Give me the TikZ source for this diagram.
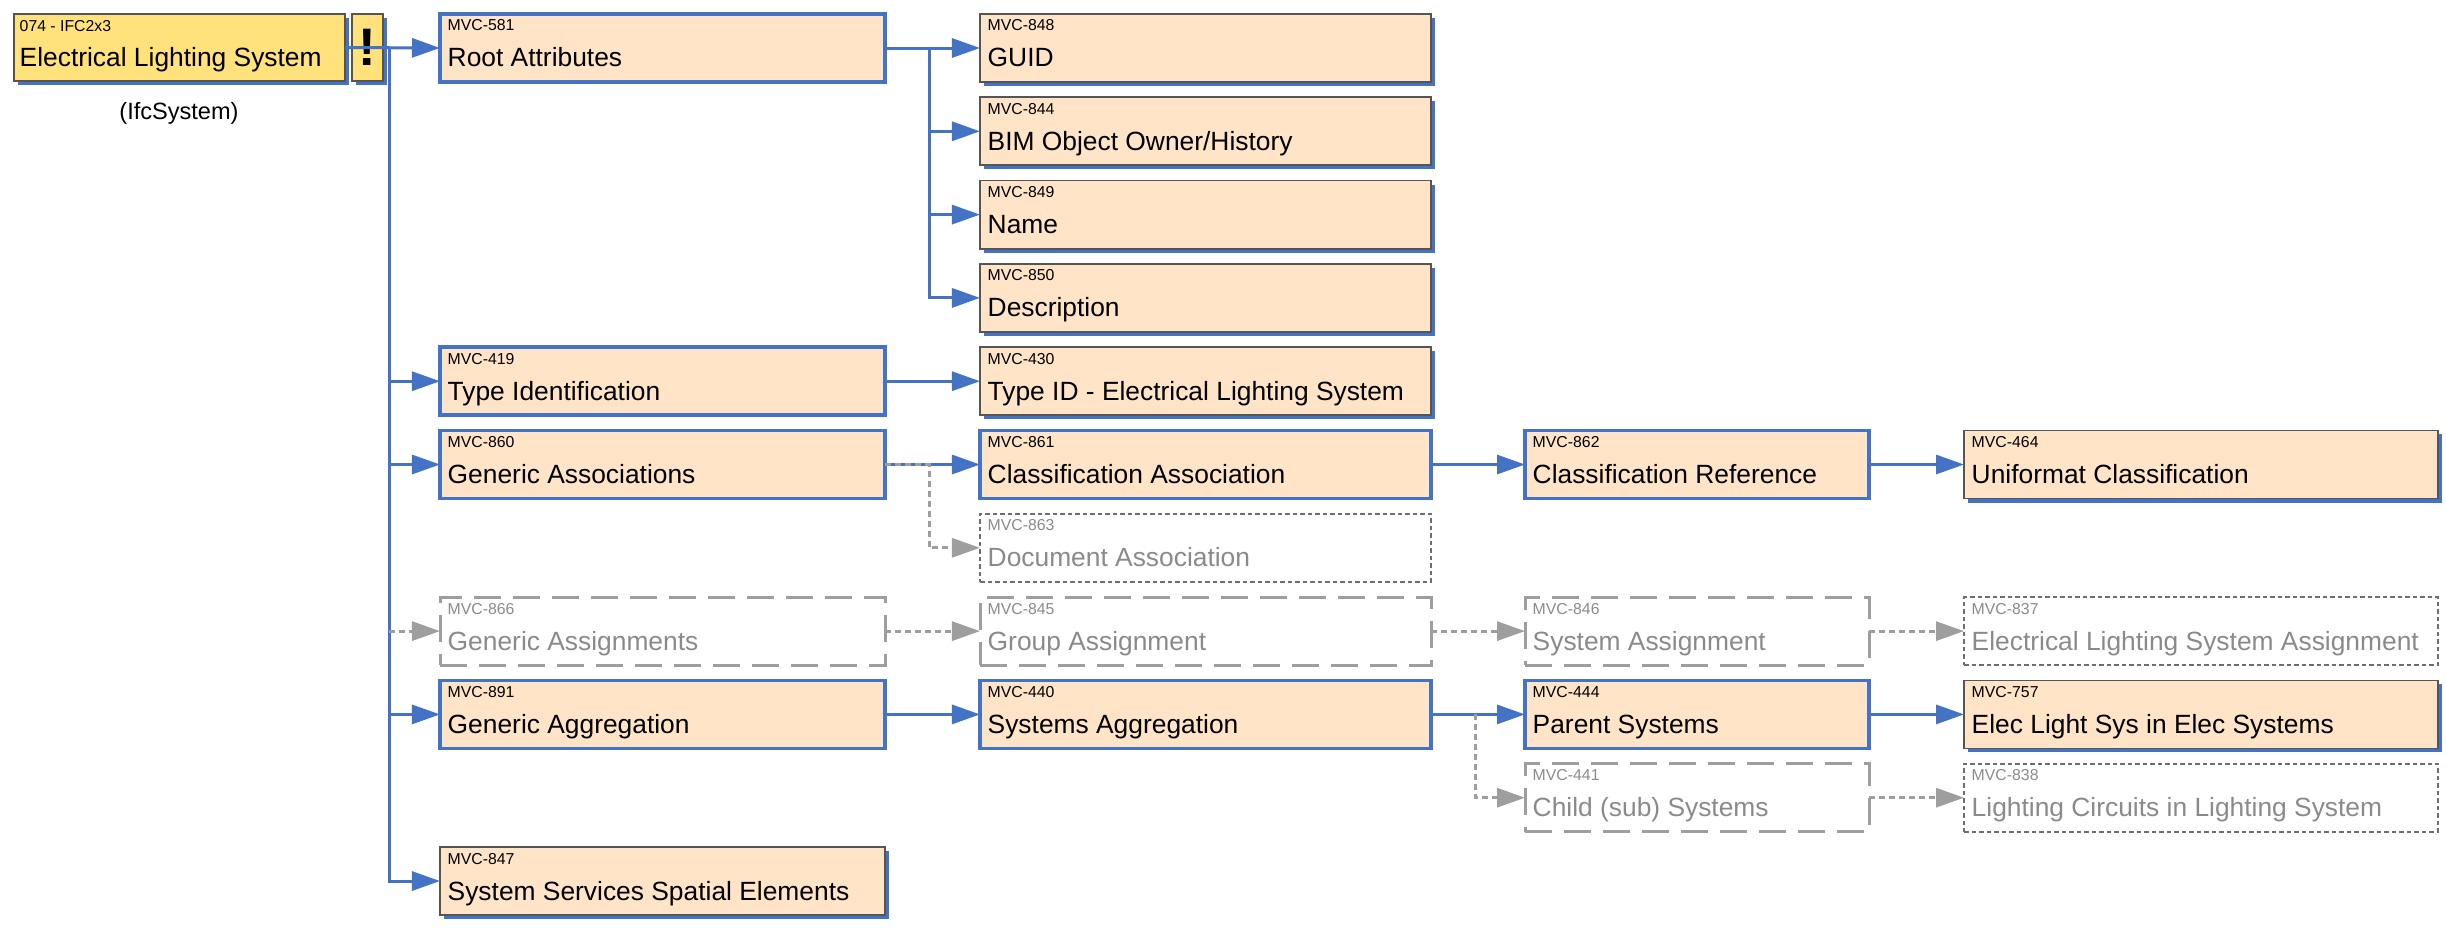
\documentclass[tikz,border=0pt]{standalone}
\usepackage{fontspec}
\setmainfont{Liberation Sans}
\usetikzlibrary{arrows.meta,shadows}

\definecolor{peach}{RGB}{255,228,200}
\definecolor{rootyellow}{RGB}{255,226,123}
\definecolor{mvcblue}{RGB}{68,114,196}
\definecolor{edgegray}{RGB}{85,85,85}
\definecolor{ghostgray}{RGB}{158,158,158}
\definecolor{dotgray}{RGB}{110,110,110}
\definecolor{ghosttext}{RGB}{138,138,138}

\begin{document}
\begin{tikzpicture}[x=0.01cm,y=-0.01cm,line join=miter,
  box/.style={rectangle,anchor=north west,inner sep=0pt,outer sep=0pt,minimum height=0.68cm},
  shadowbox/.style={box,draw=edgegray,line width=0.5pt,
    drop shadow={shadow xshift=0.04cm,shadow yshift=-0.04cm,fill=mvcblue,opacity=1}},
  leafbox/.style={shadowbox,fill=peach},
  parentbox/.style={box,draw=mvcblue,line width=1.05pt,fill=peach},
  ghostbox/.style={box,draw=ghostgray,line width=0.85pt,dash pattern=on 0.27cm off 0.12cm},
  ghostleaf/.style={box,draw=dotgray,line width=0.5pt,dash pattern=on 0.045cm off 0.03cm},
  idtext/.style={anchor=base west,inner sep=0pt,font=\fontsize{4.5}{5}\selectfont},
  nametext/.style={anchor=base west,inner sep=0pt,font=\fontsize{7.5}{9}\selectfont},
  link/.style={draw=mvcblue,line width=0.85pt,-{Triangle[length=2.8mm,width=1.9mm]}},
  glink/.style={draw=ghostgray,line width=0.85pt,dash pattern=on 0.06cm off 0.04cm,
    -{Triangle[length=2.8mm,width=1.9mm]}}]
  \useasboundingbox (0,0) rectangle (2446,934);

  % 根节点
  \node[shadowbox,fill=rootyellow,minimum width=3.31cm,minimum height=0.67cm] (root) at (14,14) {};
  \node[idtext] (root-id) at ([shift={(5,18)}]root.north west) {074 - IFC2x3};
  \node[nametext] (root-txt) at ([shift={(5,53)}]root.north west) {Electrical Lighting System};
  \node[shadowbox,fill=rootyellow,minimum width=0.31cm,minimum height=0.67cm,
    font=\fontsize{15}{15}\bfseries] (warn) at (352,14) {!};
  \node[font=\fontsize{6.7}{8}\selectfont] (ifc) at (179,113) {(IfcSystem)};

  % 有子项的方框
  \foreach \nm/\x/\r/\w/\id/\txt in {
    ra/440/0/445/MVC-581/Root Attributes,
    ti/440/4/445/MVC-419/Type Identification,
    gas/440/5/445/MVC-860/Generic Associations,
    gagg/440/8/445/MVC-891/Generic Aggregation,
    ca/980/5/451/MVC-861/Classification Association,
    sa/980/8/451/MVC-440/Systems Aggregation,
    cr/1525/5/344/MVC-862/Classification Reference,
    ps/1525/8/344/MVC-444/Parent Systems
  } {
    \node[parentbox,minimum width=\w*0.01cm] (\nm) at (\x,{14+83.3*\r}) {};
    \node[idtext] (\nm-id) at ([shift={(7,17)}]\nm.north west) {\id};
    \node[nametext] (\nm-txt) at ([shift={(7,53)}]\nm.north west) {\txt};
  }

  % 叶子方框
  \foreach \nm/\x/\r/\w/\id/\txt in {
    guid/980/0/451/MVC-848/GUID,
    bim/980/1/451/MVC-844/{BIM Object Owner/History},
    name/980/2/451/MVC-849/Name,
    desc/980/3/451/MVC-850/Description,
    tid/980/4/451/MVC-430/Type ID - Electrical Lighting System,
    uf/1964/5/474/MVC-464/Uniformat Classification,
    elsys/1964/8/474/MVC-757/Elec Light Sys in Elec Systems,
    sse/440/10/445/MVC-847/System Services Spatial Elements
  } {
    \node[leafbox,minimum width=\w*0.01cm] (\nm) at (\x,{14+83.3*\r}) {};
    \node[idtext] (\nm-id) at ([shift={(7,17)}]\nm.north west) {\id};
    \node[nametext] (\nm-txt) at ([shift={(7,53)}]\nm.north west) {\txt};
  }

  % 未启用（长虚线）
  \foreach \nm/\x/\r/\w/\id/\txt in {
    gasg/440/7/445/MVC-866/Generic Assignments,
    grpa/980/7/451/MVC-845/Group Assignment,
    sysa/1525/7/344/MVC-846/System Assignment,
    csub/1525/9/344/MVC-441/Child (sub) Systems
  } {
    \node[ghostbox,minimum width=\w*0.01cm] (\nm) at (\x,{14+83.3*\r}) {};
    \node[idtext,text=ghosttext] (\nm-id) at ([shift={(7,17)}]\nm.north west) {\id};
    \node[nametext,text=ghosttext] (\nm-txt) at ([shift={(7,53)}]\nm.north west) {\txt};
  }

  % 未启用（点线）
  \foreach \nm/\x/\r/\w/\id/\txt in {
    doca/980/6/451/MVC-863/Document Association,
    elsa/1964/7/474/MVC-837/Electrical Lighting System Assignment,
    lcirc/1964/9/474/MVC-838/Lighting Circuits in Lighting System
  } {
    \node[ghostleaf,minimum width=\w*0.01cm] (\nm) at (\x,{14+83.3*\r}) {};
    \node[idtext,text=ghosttext] (\nm-id) at ([shift={(7,17)}]\nm.north west) {\id};
    \node[nametext,text=ghosttext] (\nm-txt) at ([shift={(7,53)}]\nm.north west) {\txt};
  }

  % 连线
  \coordinate (trunk) at ([shift={(44,0)}]root.east);
  \draw[link] (root.east) -- (ra.west);
  \foreach \t in {ti,gas,gagg,sse} {
    \draw[link] (trunk) |- (\t.west);
  }
  \draw[glink] (trunk |- gasg.west) -- (gasg.west);

  \coordinate (rafan) at ([shift={(44,0)}]ra.east);
  \draw[link] (ra.east) -- (guid.west);
  \foreach \t in {bim,name,desc} {
    \draw[link] (rafan) |- (\t.west);
  }
  \draw[link] (ti.east) -- (tid.west);

  \draw[link] (gas.east) -- (ca.west);
  \draw[link] (ca.east) -- (cr.west);
  \draw[link] (cr.east) -- (uf.west);
  \coordinate (gasfan) at ([shift={(44,0)}]gas.east);
  \draw[glink] (gas.east) -- (gasfan) |- (doca.west);

  \draw[glink] (gasg.east) -- (grpa.west);
  \draw[glink] (grpa.east) -- (sysa.west);
  \draw[glink] (sysa.east) -- (elsa.west);

  \draw[link] (gagg.east) -- (sa.west);
  \draw[link] (sa.east) -- (ps.west);
  \draw[link] (ps.east) -- (elsys.west);
  \coordinate (safan) at ([shift={(44,0)}]sa.east);
  \draw[glink] (safan) |- (csub.west);
  \draw[glink] (csub.east) -- (lcirc.west);
\end{tikzpicture}
\end{document}
